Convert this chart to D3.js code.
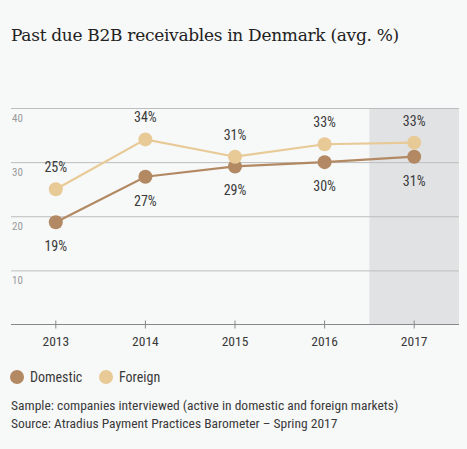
<!DOCTYPE html>
<html><head><meta charset="utf-8">
<script src="https://cdn.jsdelivr.net/npm/d3@7"></script>
<style>
html,body{margin:0;padding:0;background:#f7f8f8;}
svg{display:block;}
</style></head>
<body>
<svg id="chart" width="467" height="449"></svg>
<script>
const years = ["2013","2014","2015","2016","2017"];
const domestic = [18.9, 27.3, 29.2, 30.0, 31.0];
const foreign = [25.0, 34.2, 31.0, 33.3, 33.6];
const domesticLabels = ["19%","27%","29%","30%","31%"];
const foreignLabels = ["25%","34%","31%","33%","33%"];
const yTicks = [10, 20, 30, 40];
const highlightYear = "2017";
const seriesNames = ["Domestic", "Foreign"];

const colors = {Domestic: "#b28963", Foreign: "#e8ca97"};
const narrow = "'Liberation Sans Narrow','Arial Narrow','Roboto Condensed',Roboto,sans-serif";

const svg = d3.select("#chart");
svg.append("rect").attr("width",467).attr("height",449).attr("fill","#f7f8f8");

svg.append("text").attr("x",11).attr("y",41)
  .attr("font-family","'DejaVu Serif',serif").attr("font-size",17)
  .attr("fill","#222").attr("letter-spacing","-0.3")
  .text("Past due B2B receivables in Denmark (avg. %)");

const x = d3.scaleBand().domain(years).range([11,459]);
const y = d3.scaleLinear().domain([0,40]).range([324.5,108]);

// highlight band
svg.append("rect").attr("x",x(highlightYear)).attr("y",y(40))
  .attr("width",x.bandwidth()).attr("height",y(0)-y(40)).attr("fill","#e1e2e4");

// gridlines
const grid = svg.append("g").attr("transform","translate(11,0)")
  .call(d3.axisLeft(y).tickValues(yTicks).tickSize(-448).tickFormat(""));
grid.select(".domain").remove();
grid.selectAll("line").attr("stroke","#bdbdbd").attr("stroke-width",1);

// y tick labels
svg.selectAll(".ylab").data(yTicks).enter().append("text")
  .attr("x",12).attr("y",d=>y(d)+14)
  .attr("font-family",narrow).attr("font-size",11).attr("fill","#9a9a9a")
  .text(d=>d);

// x axis
const xa = svg.append("g").attr("transform",`translate(0,${y(0)})`)
  .call(d3.axisBottom(x).tickSize(0).tickPadding(12));
xa.select(".domain").attr("stroke","#888").attr("d","M11,0H459");
xa.selectAll("text").attr("font-family",narrow).attr("font-size",13.5).attr("fill","#3a3a3a");
xa.selectAll(".tick").append("line").attr("y1",-4).attr("y2",4).attr("stroke","#888");

const cx = d => x(d)+x.bandwidth()/2;
const line = d3.line().x((d,i)=>cx(years[i])).y(d=>y(d));

[["Domestic",domestic,domesticLabels,1],["Foreign",foreign,foreignLabels,-1]].forEach(([name,vals,labs,dir])=>{
  svg.append("path").datum(vals).attr("d",line).attr("fill","none")
    .attr("stroke",colors[name]).attr("stroke-width",2.2);
  svg.selectAll(".pt"+name).data(vals).enter().append("circle")
    .attr("cx",(d,i)=>cx(years[i])).attr("cy",d=>y(d)).attr("r",7)
    .attr("fill",colors[name]);
  svg.selectAll(".lb"+name).data(vals).enter().append("text")
    .attr("x",(d,i)=>cx(years[i])).attr("y",d=>y(d)+(dir>0?29:-17))
    .attr("text-anchor","middle").attr("font-family",narrow).attr("font-size",14)
    .attr("fill","#3a3a3a").text((d,i)=>labs[i]);
});

// legend
const legX = [17, 106];
seriesNames.forEach((n,i)=>{
  svg.append("circle").attr("cx",legX[i]).attr("cy",377).attr("r",7).attr("fill",colors[n]);
  svg.append("text").attr("x",legX[i]+13).attr("y",382)
    .attr("font-family",narrow).attr("font-size",14).attr("fill","#3a3a3a").text(n);
});

svg.append("text").attr("x",11).attr("y",410)
  .attr("font-family",narrow).attr("font-size",13.5).attr("fill","#3a3a3a")
  .text("Sample: companies interviewed (active in domestic and foreign markets)");
svg.append("text").attr("x",11).attr("y",428)
  .attr("font-family",narrow).attr("font-size",13.5).attr("fill","#3a3a3a")
  .text("Source: Atradius Payment Practices Barometer – Spring 2017");
</script>
</body></html>
